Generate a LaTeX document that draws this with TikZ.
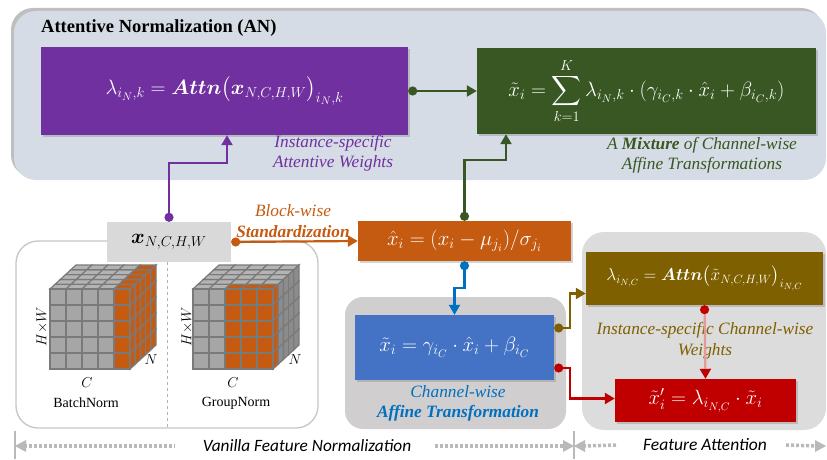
\documentclass[tikz,border=0pt]{standalone}
\usepackage{amsmath}
\usepackage{fontspec}
\setmainfont{Liberation Serif}
\newfontfamily\calfont{Carlito}
\usetikzlibrary{arrows.meta,calc,shadows}

\definecolor{anpanel}{HTML}{D6DCE5}
\definecolor{attnpurple}{HTML}{7030A0}
\definecolor{mixgreen}{HTML}{385723}
\definecolor{normorange}{HTML}{C55A11}
\definecolor{affblue}{HTML}{4472C4}
\definecolor{afftext}{HTML}{0070C0}
\definecolor{chbrown}{HTML}{7F6000}
\definecolor{scred}{HTML}{C00000}
\definecolor{xgray}{HTML}{D9D9D9}
\definecolor{affpanel}{HTML}{D0CECE}
\definecolor{fapanel}{HTML}{DCDCDC}
\definecolor{celltop}{HTML}{B4B4B4}
\definecolor{cellfront}{HTML}{A6A6A6}
\definecolor{cellside}{HTML}{8C8C8C}
\definecolor{celledge}{HTML}{7A7A7A}
\definecolor{cellorange}{HTML}{C55A11}

\newcommand\eqfont{\fontsize{21.5}{24}\selectfont}
\newcommand\lblfont{\itshape\fontsize{17.3}{20.5}\selectfont}

\tikzset{
	eqbox/.style={inner sep=0pt, text=white, font=\eqfont,
		drop shadow={opacity=0.35, shadow xshift=2pt, shadow yshift=-2pt}},
	lbl/.style={align=center, inner sep=0pt, font=\lblfont},
	conn/.style={line width=2.2pt, {Circle[length=9pt]}-{Triangle[length=10pt,width=11pt]}},
	dotline/.style={gray!55, line width=3.5pt, dash pattern=on 3pt off 2pt},
	cubelbl/.style={inner sep=0pt, font=\fontsize{14}{16}\selectfont},
}

\begin{document}
\begin{tikzpicture}[x=1pt,y=-1pt]
	\useasboundingbox (0,0) rectangle (827,460);

	% attentive normalization panel
	\fill[gray!50, rounded corners=22pt] (11,8) rectangle (823,177);
	\fill[anpanel, rounded corners=22pt] (14,11) rectangle (826,180);
	\node[anchor=west, inner sep=0pt, font=\bfseries\fontsize{18.5}{20}\selectfont] (title) at (41,28) {Attentive Normalization (AN)};

	\node[eqbox, fill=attnpurple, minimum width=367pt, minimum height=88pt] (attn) at (224.5,91)
		{$\lambda_{i_N,k}=\boldsymbol{Attn}\big(\boldsymbol{x}_{N,C,H,W}\big)_{i_N,k}$};
	\node[eqbox, fill=mixgreen, minimum width=339pt, minimum height=86pt] (mix) at (646.5,91)
		{$\displaystyle\tilde{x}_i=\sum_{k=1}^{K}\lambda_{i_N,k}\cdot(\gamma_{i_C,k}\cdot\hat{x}_i+\beta_{i_C,k})$};
	\node[lbl, text=attnpurple] (attnlbl) at (333,153) {Instance-specific\\Attentive Weights};
	\node[lbl, text=mixgreen] (mixlbl) at (702,155) {A \textbf{Mixture} of Channel-wise\\Affine Transformations};

	% vanilla normalization panel
	\draw[gray!45, line width=1.3pt, fill=white, rounded corners=22pt] (16,241) rectangle (318,428);
	\draw[gray!60, dashed, line width=1pt] (167,262) -- (167,428);
	\node[fill=xgray, inner sep=0pt, minimum width=124pt, minimum height=40pt, font=\eqfont] (xin) at (169,242)
		{$\boldsymbol{x}_{N,C,H,W}$};

	% BatchNorm cube
	\begin{scope}[shift={(50,289)}]
		\foreach \i in {0,...,4} \foreach \k in {0,...,4} {
			\ifnum\i=4 \def\cc{cellorange}\else\def\cc{celltop}\fi
			\filldraw[fill=\cc, draw=celledge, line width=1.2pt] (16*\i+5.2*\k,-4.8*\k) -- ++(16,0) -- ++(5.2,-4.8) -- ++(-16,0) -- cycle;
		}
		\foreach \j in {0,...,4} \foreach \k in {0,...,4}
			\filldraw[fill=cellorange, draw=celledge, line width=1.2pt] (80+5.2*\k,16*\j-4.8*\k) -- ++(5.2,-4.8) -- ++(0,16) -- ++(-5.2,4.8) -- cycle;
		\foreach \i in {0,...,4} \foreach \j in {0,...,4} {
			\ifnum\i=4 \def\cc{cellorange}\else\def\cc{cellfront}\fi
			\filldraw[fill=\cc, draw=celledge, line width=1.6pt] (16*\i,16*\j) rectangle ++(16,16);
		}
	\end{scope}
	\node[cubelbl, rotate=90] (bnhw) at (42,327) {$H{\times}W$};
	\node[cubelbl] (bnn) at (151,360) {$N$};
	\node[cubelbl] (bnc) at (87,383) {$C$};
	\node[cubelbl] (bn) at (86,403) {BatchNorm};

	% GroupNorm cube
	\begin{scope}[shift={(193,289)}]
		\foreach \i in {0,...,4} \foreach \k in {0,...,4} {
			\def\cc{celltop}
			\ifnum\k=0 \ifnum\i>1 \def\cc{cellorange}\fi\fi
			\filldraw[fill=\cc, draw=celledge, line width=1.2pt] (16*\i+5.2*\k,-4.8*\k) -- ++(16,0) -- ++(5.2,-4.8) -- ++(-16,0) -- cycle;
		}
		\foreach \j in {0,...,4} \foreach \k in {0,...,4} {
			\ifnum\k=0 \def\cc{cellorange}\else\def\cc{cellside}\fi
			\filldraw[fill=\cc, draw=celledge, line width=1.2pt] (80+5.2*\k,16*\j-4.8*\k) -- ++(5.2,-4.8) -- ++(0,16) -- ++(-5.2,4.8) -- cycle;
		}
		\foreach \i in {0,...,4} \foreach \j in {0,...,4} {
			\ifnum\i>1 \def\cc{cellorange}\else\def\cc{cellfront}\fi
			\filldraw[fill=\cc, draw=celledge, line width=1.6pt] (16*\i,16*\j) rectangle ++(16,16);
		}
	\end{scope}
	\node[cubelbl, rotate=90] (gnhw) at (187,327) {$H{\times}W$};
	\node[cubelbl] (gnn) at (295,360) {$N$};
	\node[cubelbl] (gnc) at (233,383) {$C$};
	\node[cubelbl] (gn) at (236,403) {GroupNorm};

	% standardization
	\node[eqbox, fill=normorange, minimum width=213pt, minimum height=40pt] (norm) at (464.5,241)
		{$\hat{x}_i=(x_i-\mu_{j_i})/\sigma_{j_i}$};

	% channel-wise affine transformation
	\fill[affpanel, rounded corners=18pt] (345,297) rectangle (566,429);
	\node[eqbox, fill=affblue, minimum width=199pt, minimum height=65pt] (affine) at (454.5,347.5)
		{$\tilde{x}_i=\gamma_{i_C}\cdot\hat{x}_i+\beta_{i_C}$};
	\node[lbl, text=afftext] (afflbl) at (458,403.5) {Channel-wise\\\textbf{Affine Transformation}};

	% feature attention
	\fill[fapanel, rounded corners=22pt] (582,232) rectangle (826,430);
	\node[eqbox, fill=chbrown, minimum width=237pt, minimum height=53pt, font=\fontsize{18.5}{21}\selectfont] (chattn) at (704.5,278.5)
		{$\lambda_{i_{N,C}}=\boldsymbol{Attn}\big(\tilde{x}_{N,C,H,W}\big)_{i_{N,C}}$};
	\node[eqbox, fill=scred, minimum width=181pt, minimum height=43pt] (scale) at (705.5,400.5)
		{$\tilde{x}'_i=\lambda_{i_{N,C}}\cdot\tilde{x}_i$};
	\node[lbl, text=chbrown] (chlbl) at (705,340.5) {Instance-specific Channel-wise\\Weights};

	% connectors
	\draw[conn, attnpurple] (xin.north) -- (xin.north |- 0,163) -| ([xshift=2.5pt]attn.south);
	\draw[conn, mixgreen] (attn.east) -- (mix.west);
	\draw[conn, mixgreen] (norm.north) -- (norm.north |- 0,160) -| (mix.south -| 506,0);
	\draw[conn, normorange] (xin.east) -- (norm.west);
	\node[lbl, text=normorange] (stdlbl) at (293,221) {Block-wise\\\textbf{Standardization}};
	\draw[conn, afftext] (norm.south) -- ++(0,27) -| (affine.north);
	\draw[conn, chbrown] ([yshift=19.5pt]affine.east) -- ++(16,0) |- ([yshift=-15pt]chattn.west);
	\draw[conn, scred] ([yshift=-20.5pt]affine.east) -- ++(16,0) |- ([yshift=2pt]scale.west);
	\draw[line width=2.2pt, scred!40, {Circle[length=9pt,color=scred]}-{Triangle[length=10pt,width=11pt,color=scred]}] (chattn.south) -- (scale.north);

	% bottom scale
	\node[inner sep=0pt, font=\calfont\itshape\fontsize{17.3}{19}\selectfont] (vfn) at (307,446) {Vanilla Feature Normalization};
	\node[inner sep=0pt, font=\calfont\itshape\fontsize{17.5}{19}\selectfont] (fa) at (705,445) {Feature Attention};
	\coordinate (ltick) at (15,446);
	\coordinate (mtick) at (574,446);
	\coordinate (rend) at (826,446);
	\draw[gray!55, line width=1.2pt] (15,431) -- (15,459);
	\draw[gray!55, line width=1.2pt] (574,431) -- (574,459);
	\draw[dotline] ([xshift=9pt]ltick) -- ([xshift=-28pt]vfn.west);
	\draw[dotline] ([xshift=24pt]vfn.east) -- ([xshift=-9pt]mtick);
	\draw[dotline] ([xshift=9pt]mtick) -- ([xshift=-26pt]fa.west);
	\draw[dotline] ([xshift=19pt]fa.east) -- ([xshift=-9pt]rend);
	\fill[gray!55] (ltick) -- ++(11,-6) -- ++(0,12) -- cycle;
	\fill[gray!55] (mtick) -- ++(-11,-6) -- ++(0,12) -- cycle;
	\fill[gray!55] (mtick) -- ++(11,-6) -- ++(0,12) -- cycle;
	\fill[gray!55] (rend) -- ++(-11,-6) -- ++(0,12) -- cycle;
\end{tikzpicture}
\end{document}
